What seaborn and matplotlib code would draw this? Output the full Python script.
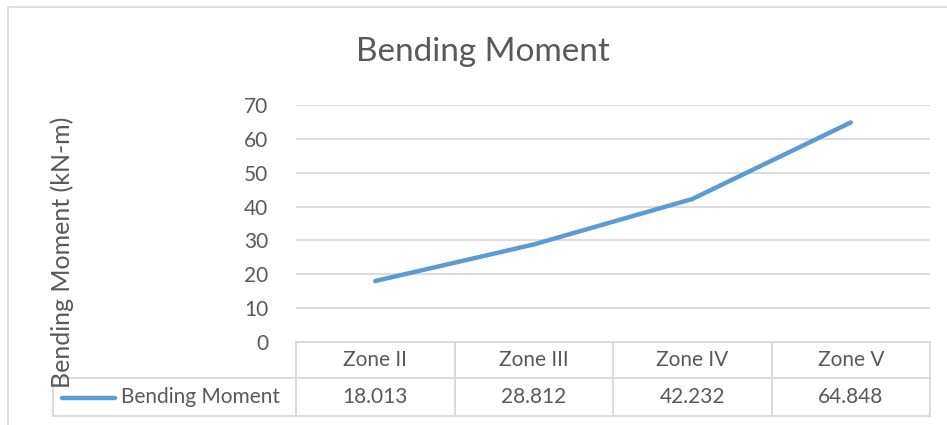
import matplotlib
matplotlib.use("Agg")
import matplotlib.pyplot as plt
import seaborn as sns
import pandas as pd
from matplotlib.lines import Line2D
from matplotlib.patches import Rectangle

categories = ["Zone II", "Zone III", "Zone IV", "Zone V"]
values = [18.013, 28.812, 42.232, 64.848]
series_name = "Bending Moment"
yticks = [0, 10, 20, 30, 40, 50, 60, 70]

sns.set_theme(style="white")
plt.rcParams["font.family"] = ["Lato", "DejaVu Sans"]

TXT = "#595959"
GRID = "#d9d9d9"
BLUE = "#5B9BD5"

W, H = 947, 425
fig = plt.figure(figsize=(W / 100, H / 100), dpi=100)

def fx(px):
    return px / W

def fy(py):
    return 1 - py / H

# outer chart border (right and bottom edges lie outside the image)
fig.patches.append(Rectangle((fx(8), fy(440)), fx(960) - fx(8), fy(7) - fy(440),
                             transform=fig.transFigure, fill=False,
                             edgecolor=GRID, linewidth=1.2))

x0, x1, ytop, ybot = 296, 930, 105, 342
ax = fig.add_axes([fx(x0), fy(ybot), fx(x1) - fx(x0), fy(ytop) - fy(ybot)])

df = pd.DataFrame({"zone": categories, "moment": values})
df["pos"] = range(len(categories))
sns.lineplot(data=df, x="pos", y="moment", ax=ax, color=BLUE, linewidth=3.2,
             solid_capstyle="round", solid_joinstyle="round")

ax.set_xlim(-0.5, len(categories) - 0.5)
ax.set_ylim(0, 70)
ax.set_yticks(yticks)
ax.set_yticklabels([str(t) for t in yticks], color=TXT, fontsize=15)
ax.tick_params(axis="y", length=0, pad=20)
ax.set_xticks([])
ax.set_xlabel("")
ax.set_ylabel("")
ax.yaxis.grid(True, color=GRID, linewidth=1.3)
ax.set_axisbelow(True)
for s in ax.spines.values():
    s.set_visible(False)

# data table below the plot
row_top, row_mid, row_bot = 342, 378, 416
legend_left = 53
cell_w = (x1 - x0) / len(categories)
lw = 1.4
col_edges = [x0 + i * cell_w for i in range(len(categories) + 1)]
fig.add_artist(Line2D([fx(x0), fx(x1)], [fy(row_top)] * 2, color=GRID, lw=lw))
fig.add_artist(Line2D([fx(legend_left), fx(x1)], [fy(row_mid)] * 2, color=GRID, lw=lw))
fig.add_artist(Line2D([fx(legend_left), fx(x1)], [fy(row_bot)] * 2, color=GRID, lw=lw))
for e in col_edges:
    fig.add_artist(Line2D([fx(e)] * 2, [fy(row_top), fy(row_bot)], color=GRID, lw=lw))
fig.add_artist(Line2D([fx(legend_left)] * 2, [fy(row_mid), fy(row_bot)], color=GRID, lw=lw))

for i, (c, v) in enumerate(zip(categories, values)):
    cx = x0 + (i + 0.5) * cell_w
    fig.text(fx(cx), fy((row_top + row_mid) / 2), c, ha="center", va="center",
             color=TXT, fontsize=15)
    fig.text(fx(cx), fy((row_mid + row_bot) / 2), f"{v:.3f}", ha="center", va="center",
             color=TXT, fontsize=15)

# legend key in the table row label
fig.add_artist(Line2D([fx(62), fx(115)], [fy(398)] * 2, color=BLUE, lw=3.2,
                      solid_capstyle="round"))
fig.text(fx(121), fy(397), series_name, ha="left", va="center", color=TXT, fontsize=15)

# title and y-axis label
fig.text(fx(483), fy(52), "Bending Moment", ha="center", va="center", color=TXT, fontsize=24)
fig.text(fx(62), fy(252), "Bending Moment (kN-m)", ha="center", va="center",
         rotation=90, color=TXT, fontsize=18)

fig.savefig("out.png", dpi=100)
